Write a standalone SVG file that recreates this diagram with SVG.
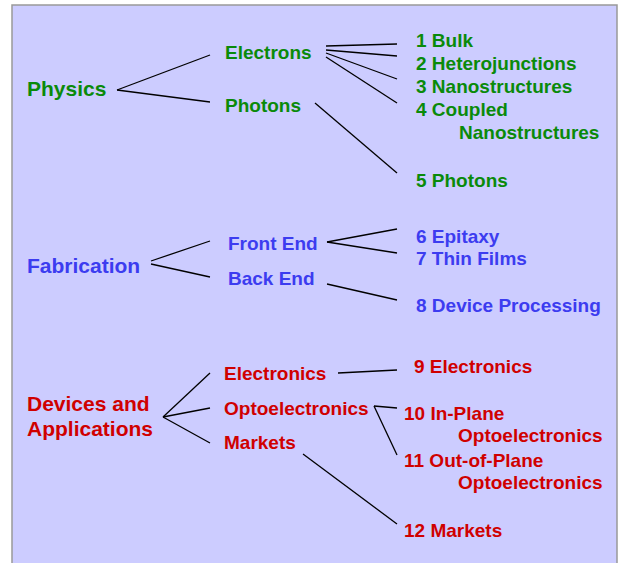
<svg xmlns="http://www.w3.org/2000/svg" width="620" height="563" viewBox="0 0 620 563">
<style>
text{font-family:"Liberation Sans",Arial,sans-serif;font-weight:bold;font-size:19px}
.g{fill:#0a8a0a}.b{fill:#3c3cf0}.r{fill:#d00000}
.big{font-size:21px}
#connectors line{stroke:#000;stroke-width:1.3}
</style>
<rect x="12" y="5" width="605" height="570" fill="#ccccff" stroke="#999" stroke-width="1.5"/>
<g id="connectors">
<line x1="117" y1="90" x2="210" y2="55"/>
<line x1="117" y1="90" x2="210" y2="102"/>
<line x1="326" y1="46" x2="397" y2="44"/>
<line x1="326" y1="50" x2="397" y2="56"/>
<line x1="326" y1="53" x2="397" y2="79"/>
<line x1="326" y1="57" x2="397" y2="103"/>
<line x1="315" y1="103" x2="397" y2="173"/>
<line x1="151" y1="261" x2="210" y2="241"/>
<line x1="151" y1="264" x2="210" y2="277"/>
<line x1="327" y1="242" x2="397" y2="229"/>
<line x1="327" y1="242" x2="397" y2="253"/>
<line x1="327" y1="284" x2="397" y2="300"/>
<line x1="163" y1="417" x2="210" y2="373"/>
<line x1="163" y1="417" x2="210" y2="408"/>
<line x1="163" y1="417" x2="210" y2="443"/>
<line x1="338" y1="373" x2="397" y2="370"/>
<line x1="374" y1="406" x2="397" y2="408"/>
<line x1="374" y1="406" x2="397" y2="455"/>
<line x1="303" y1="454" x2="397" y2="524"/>
</g>
<g id="physics"><text class="g big" x="27" y="96">Physics</text></g>
<g id="electrons"><text class="g" x="225" y="59">Electrons</text></g>
<g id="photons"><text class="g" x="225" y="112">Photons</text></g>
<g id="n1"><text class="g" x="416" y="47">1 Bulk</text></g>
<g id="n2"><text class="g" x="416" y="70">2 Heterojunctions</text></g>
<g id="n3"><text class="g" x="416" y="93">3 Nanostructures</text></g>
<g id="n4"><text class="g" x="416" y="116">4 Coupled</text><text class="g" x="459" y="139">Nanostructures</text></g>
<g id="n5"><text class="g" x="416" y="187">5 Photons</text></g>
<g id="fabrication"><text class="b big" x="27" y="273">Fabrication</text></g>
<g id="frontend"><text class="b" x="228" y="250">Front End</text></g>
<g id="backend"><text class="b" x="228" y="285">Back End</text></g>
<g id="n6"><text class="b" x="416" y="243">6 Epitaxy</text></g>
<g id="n7"><text class="b" x="416" y="265">7 Thin Films</text></g>
<g id="n8"><text class="b" x="416" y="312">8 Device Processing</text></g>
<g id="devices"><text class="r big" x="27" y="411">Devices and</text><text class="r big" x="27" y="436">Applications</text></g>
<g id="electronics"><text class="r" x="224" y="380">Electronics</text></g>
<g id="optoelectronics"><text class="r" x="224" y="415">Optoelectronics</text></g>
<g id="markets"><text class="r" x="224" y="449">Markets</text></g>
<g id="n9"><text class="r" x="414" y="373">9 Electronics</text></g>
<g id="n10"><text class="r" x="404" y="420">10 In-Plane</text><text class="r" x="458" y="442">Optoelectronics</text></g>
<g id="n11"><text class="r" x="404" y="467">11 Out-of-Plane</text><text class="r" x="458" y="489">Optoelectronics</text></g>
<g id="n12"><text class="r" x="404" y="537">12 Markets</text></g>
</svg>
